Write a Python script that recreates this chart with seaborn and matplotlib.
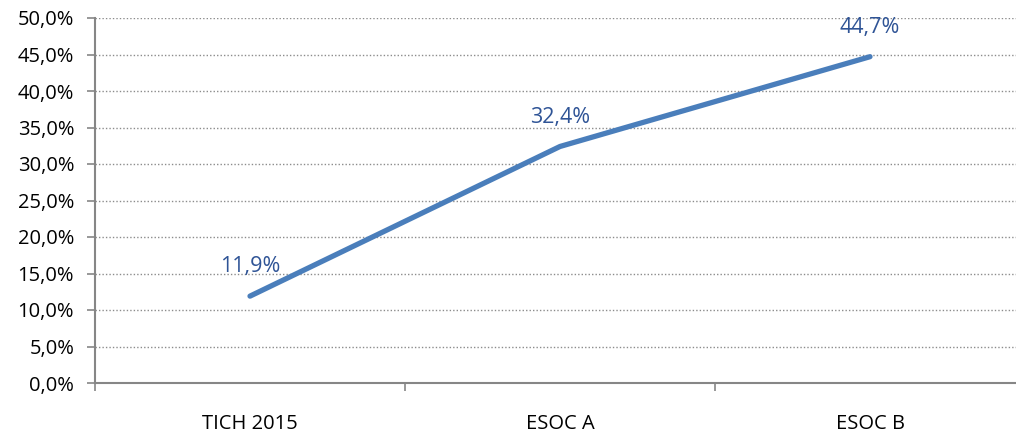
import matplotlib
matplotlib.use("Agg")
import matplotlib.pyplot as plt
from matplotlib.ticker import FixedLocator, FuncFormatter
import seaborn as sns
import pandas as pd

categories = ["TICH 2015", "ESOC A", "ESOC B"]
values = [11.9, 32.4, 44.7]
y_ticks = [0, 5, 10, 15, 20, 25, 30, 35, 40, 45, 50]

df = pd.DataFrame({"group": categories, "pct": values})

sns.set_theme(style="white")
plt.rcParams["font.family"] = ["Open Sans", "DejaVu Sans"]

fig = plt.figure(figsize=(10.16, 4.37), dpi=100)
ax = fig.add_axes([95 / 1016, 1 - 383 / 437, 930 / 1016, 365 / 437])

sns.lineplot(data=df, x="group", y="pct", ax=ax, color="#4A7EBB",
             linewidth=3.8, solid_capstyle="round", sort=False)

ax.set_xlim(-0.5, 2.5)
ax.set_ylim(0, 50)
ax.set_yticks(y_ticks)
ax.yaxis.set_major_formatter(FuncFormatter(lambda v, _: f"{v:.1f}%".replace(".", ",")))
ax.tick_params(axis="y", labelsize=14.5, length=6, width=1.2, color="#868686",
               labelcolor="#000000", pad=9, left=True)
ax.set_xticks(range(len(categories)))
ax.set_xticklabels(categories)
ax.tick_params(axis="x", which="major", length=0, labelsize=14.5, pad=22,
               labelcolor="#000000")
ax.xaxis.set_minor_locator(FixedLocator([-0.5, 0.5, 1.5, 2.5]))
ax.tick_params(axis="x", which="minor", length=6, width=1.2, color="#868686",
               bottom=True)

ax.yaxis.grid(True, linestyle=(0, (1, 1.5)), color="#8c8c8c", linewidth=1.0)
ax.set_axisbelow(True)
for side in ["top", "right"]:
    ax.spines[side].set_visible(False)
for side in ["left", "bottom"]:
    ax.spines[side].set_color("#868686")
    ax.spines[side].set_linewidth(1.5)
ax.set_xlabel("")
ax.set_ylabel("")

for i, v in enumerate(values):
    ax.annotate(f"{v:.1f}%".replace(".", ","), (i, v), xytext=(0, 21),
                textcoords="offset points", ha="center", va="center",
                fontsize=15.5, color="#2F5496")

fig.savefig("out.png", dpi=100)
